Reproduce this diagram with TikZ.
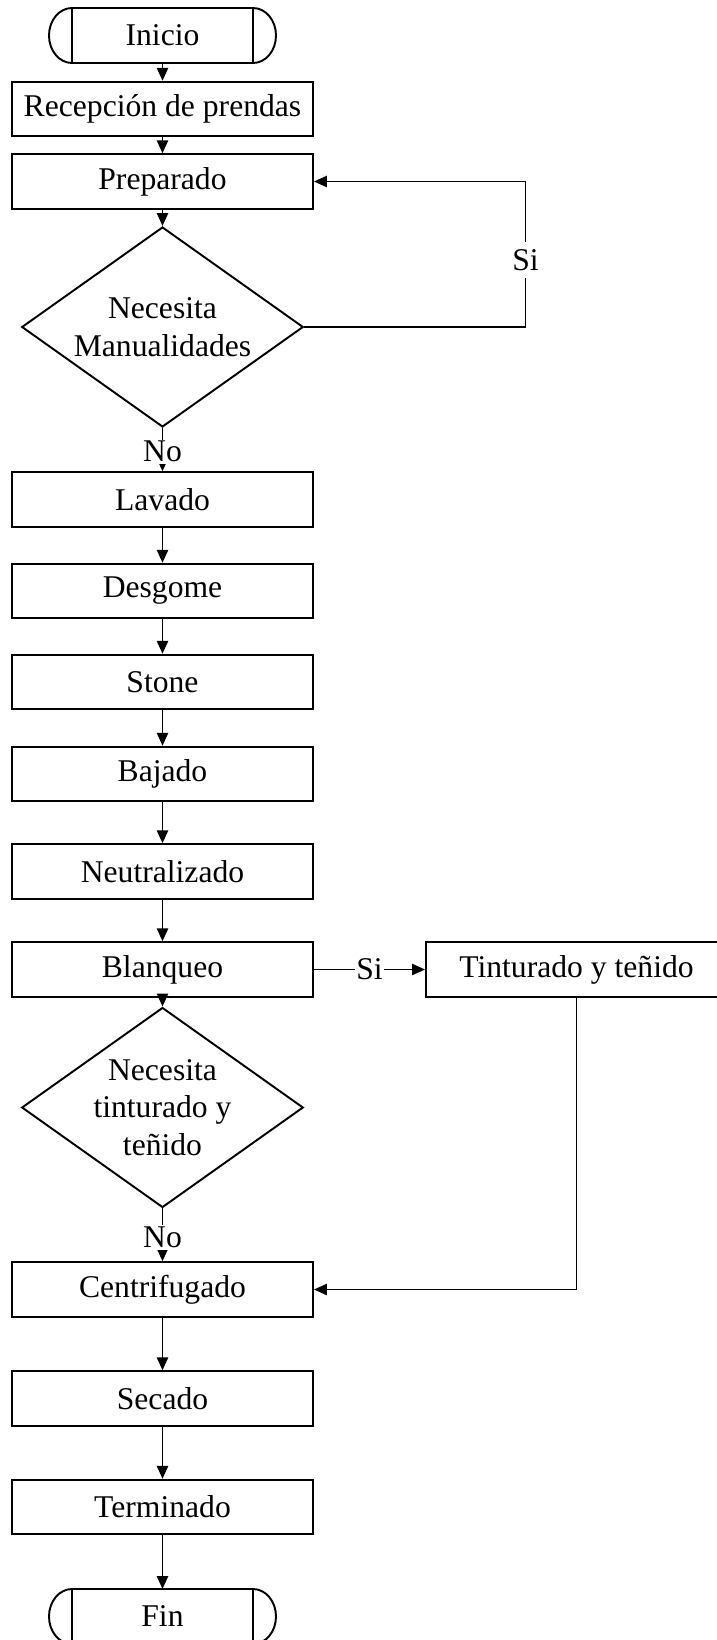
\documentclass[tikz,border=0pt]{standalone}
\usepackage{fontspec}
\setmainfont{Liberation Serif}
\usepackage{tikz}
\usetikzlibrary{shapes.geometric,arrows.meta}
\newcommand{\tikzTerminalNode}[3]{
  \node[draw,rectangle,outer sep=0pt,minimum width=3.62cm,minimum height=1.1cm] (#1) at (#2) {#3};
  \path[draw,-] (#1.north west) arc[start angle=90,end angle=270,x radius=0.46cm,y radius=0.55cm]
                (#1.south east) arc[start angle=-90,end angle=90,x radius=0.46cm,y radius=0.55cm];
}

\begin{document}
\begin{tikzpicture}[line width=1.1pt, ->, >={Triangle[length=7.4pt,width=6.4pt]},
  every node/.style={font=\fontsize{18}{21.5}\selectfont},
  proc/.style={draw,rectangle,inner sep=0pt,minimum width=6.02cm,minimum height=1.09cm},
  decision/.style={draw,diamond,align=center,inner sep=0pt,aspect=1.41,minimum width=5.63cm,minimum height=4cm},
  lbl/.style={fill=white,inner sep=1pt}]
  \useasboundingbox (0,0) rectangle (14.32,-32.8);

  \tikzTerminalNode{ini}{3.25,-0.71}{Inicio}
  \node [proc] (rec)   at (3.25,-2.18)  {Recepción de prendas};
  \path (ini) edge (rec);
  \node [proc] (prep)  at (3.25,-3.63)  {Preparado};
  \path (rec) edge (prep);
  \node [decision] (d1) at (3.25,-6.54) {Necesita\\Manualidades};
  \path (prep) edge (d1);
  \coordinate (c1) at (10.51,-6.54);
  \draw (d1.east) -- (c1) |- node[lbl,inner sep=4pt,pos=0.23] {Si} (prep.east);

  \node [proc] (lav)   at (3.25,-9.99)  {Lavado};
  \path (d1) edge node[lbl,pos=0.55] {No} (lav);
  \node [proc] (desg)  at (3.25,-11.82) {Desgome};
  \path (lav) edge (desg);
  \node [proc] (stone) at (3.25,-13.64) {Stone};
  \path (desg) edge (stone);
  \node [proc] (baj)   at (3.25,-15.48) {Bajado};
  \path (stone) edge (baj);
  \node [proc] (neut)  at (3.25,-17.43) {Neutralizado};
  \path (baj) edge (neut);
  \node [proc] (blanq) at (3.25,-19.39) {Blanqueo};
  \path (neut) edge (blanq);

  \node [proc] (tint)  at (11.53,-19.39) {Tinturado y teñido};
  \path (blanq) edge node[lbl] {Si} (tint);
  \node [decision] (d2) at (3.25,-22.15) {Necesita\\tinturado y\\teñido};
  \path (blanq) edge (d2);

  \node [proc] (cent)  at (3.25,-25.79) {Centrifugado};
  \path (d2) edge node[lbl,pos=0.55] {No} (cent);
  \draw (tint.south) |- (cent.east);
  \node [proc] (sec)   at (3.25,-27.97) {Secado};
  \path (cent) edge (sec);
  \node [proc] (term)  at (3.25,-30.14) {Terminado};
  \path (sec) edge (term);
  \tikzTerminalNode{fin}{3.25,-32.33}{Fin}
  \path (term) edge (fin);

\end{tikzpicture}
\end{document}
